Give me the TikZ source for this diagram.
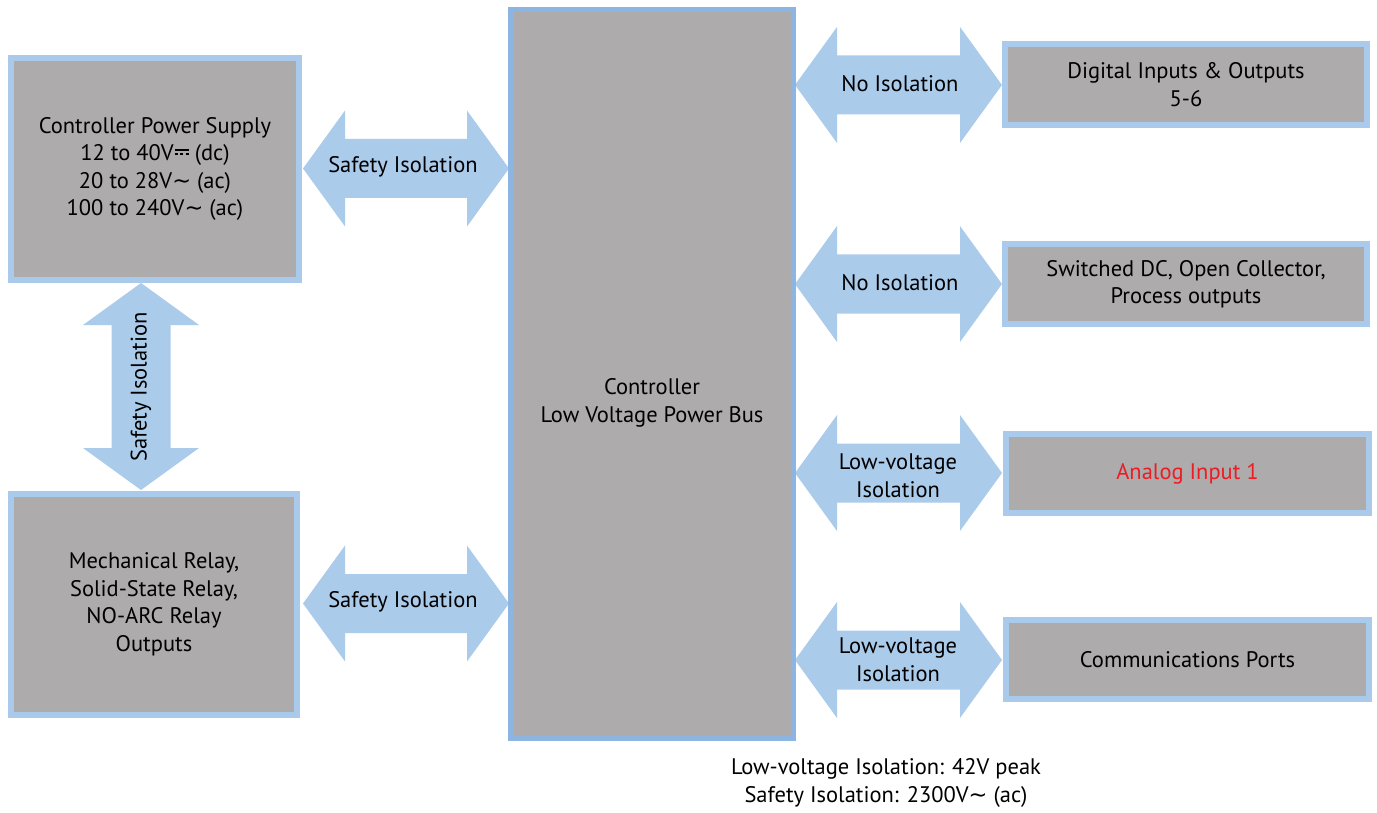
\documentclass[tikz,border=0pt]{standalone}
\usepackage{fontspec}
\setmainfont{PT Sans}
\newfontfamily\symfnt{DejaVu Sans}
\definecolor{boxgray}{HTML}{ADABAC}
\definecolor{boxblue}{HTML}{A9CAEB}
\definecolor{busblue}{HTML}{8DB5E2}
\definecolor{arrowblue}{HTML}{ABCBEB}
\definecolor{redtxt}{HTML}{ED1C24}
\newcommand{\acs}{{\symfnt\char"223C}}
\newcommand{\dcs}{\hspace{0.05em}\raisebox{0.85ex}{\rlap{\rule{0.62em}{0.08em}}}\raisebox{0.55ex}{\rule{0.14em}{0.08em}\hspace{0.1em}\rule{0.14em}{0.08em}\hspace{0.1em}\rule{0.14em}{0.08em}}}
\newcommand{\hdarrow}[3]{\fill[arrowblue] (#1,#3) -- (#1+42,#3-58) -- (#1+42,#3-29.5) -- (#2-42,#3-29.5) -- (#2-42,#3-58) -- (#2,#3) -- (#2-42,#3+58) -- (#2-42,#3+29.5) -- (#1+42,#3+29.5) -- (#1+42,#3+58) -- cycle;}
\newcommand{\vdarrow}[3]{\fill[arrowblue] (#3,#1) -- (#3+58,#1+42) -- (#3+29.5,#1+42) -- (#3+29.5,#2-42) -- (#3+58,#2-42) -- (#3,#2) -- (#3-58,#2-42) -- (#3-29.5,#2-42) -- (#3-29.5,#1+42) -- (#3-58,#1+42) -- cycle;}
\tikzset{
  blk/.style={draw=boxblue, line width=6pt, fill=boxgray, outer sep=0pt, inner sep=0pt, align=center, font=\fontsize{22.5}{27.5}\selectfont},
  bus/.style={draw=busblue, line width=5.5pt, fill=boxgray, outer sep=0pt, inner sep=0pt},
  lbl/.style={align=center, inner sep=0pt, font=\fontsize{22.5}{27.5}\selectfont},
}
\begin{document}
\begin{tikzpicture}[x=1pt,y=-1pt]
\useasboundingbox (0,0) rectangle (1377,813);
% arrows
\hdarrow{303}{509}{168.5}
\hdarrow{303}{509}{603.5}
\vdarrow{283}{490}{141}
\hdarrow{795}{1002}{85}
\hdarrow{795}{1002}{284}
\hdarrow{795}{1002}{473}
\hdarrow{795}{1002}{660}
% boxes
\node[blk, minimum width=288pt, minimum height=222pt] (ps) at (155,169) {Controller Power Supply\\12 to 40V\dcs{} (dc)\\20 to 28V\acs{} (ac)\\100 to 240V\acs{} (ac)};
\node[blk, minimum width=286pt, minimum height=221pt] (relay) at (154,604.5) {Mechanical Relay,\\Solid-State Relay,\\NO-ARC Relay\\Outputs};
\node[bus, minimum width=282.5pt, minimum height=728.5pt] (busbox) at (652,374) {};
\node[lbl] (bustxt) at (652,403) {Controller\\Low Voltage Power Bus};
\node[blk, minimum width=362pt, minimum height=81pt] (dig) at (1186,84.5) {Digital Inputs \& Outputs\\5-6};
\node[blk, minimum width=362pt, minimum height=80pt] (sw) at (1186,284) {Switched DC, Open Collector,\\Process outputs};
\node[blk, minimum width=363pt, minimum height=79pt, text=redtxt] (ana) at (1187.5,473.5) {Analog Input 1};
\node[blk, minimum width=363pt, minimum height=79pt] (com) at (1187.5,659.5) {Communications Ports};
% arrow labels
\node[lbl] (l1) at (403,167) {Safety Isolation};
\node[lbl] (l2) at (403,602) {Safety Isolation};
\node[lbl, rotate=90] (l3) at (141,387) {Safety Isolation};
\node[lbl] (l4) at (900,84) {No Isolation};
\node[lbl] (l5) at (900,283) {No Isolation};
\node[lbl] (l6) at (898,476) {Low-voltage\\Isolation};
\node[lbl] (l7) at (898,660) {Low-voltage\\Isolation};
% footer
\node[lbl] (foot) at (886,783) {Low-voltage Isolation: 42V peak\\Safety Isolation: 2300V\acs{} (ac)};
\end{tikzpicture}
\end{document}
